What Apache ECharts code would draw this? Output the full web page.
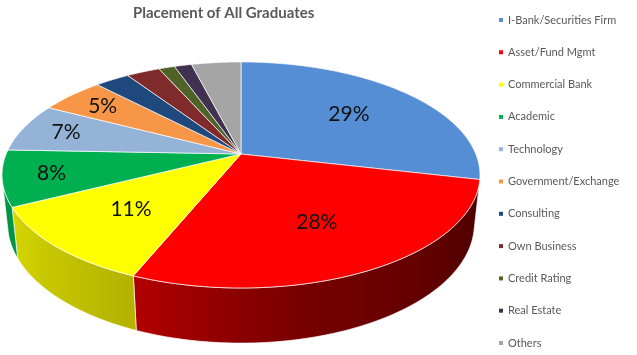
<!DOCTYPE html>
<html>
<head>
<meta charset="utf-8">
<script src="https://cdn.jsdelivr.net/npm/echarts@6/dist/echarts.min.js"></script>
<style>
html,body{margin:0;padding:0;background:#fff;}
#chart{width:637px;height:355px;}
</style>
</head>
<body>
<div id="chart"></div>
<script>
// ---- data ----
const categories = ['I-Bank/Securities Firm','Asset/Fund Mgmt','Commercial Bank','Academic','Technology','Government/Exchange','Consulting','Own Business','Credit Rating','Real Estate','Others'];
const values = [28.6, 27.6, 11.4, 8.0, 7.0, 5.2, 2.8, 2.7, 1.3, 1.4, 4.0];
const colors = ['#558ED5','#FF0000','#FFFF00','#00B050','#95B3D7','#F79646','#1F497D','#7F2B2B','#4F6228','#403151','#A5A5A5'];
const titleText = 'Placement of All Graduates';

// ---- 3D projection (perspective view of a tilted pie) ----
const CX = 241, CY = 154, F = 1121, D = 4.774, SIN_A = 0.4647, COS_A = 0.8855, H = 0.237;
function proj(theta, r, y3) {
  const x = r * Math.sin(theta), z = -r * Math.cos(theta);
  const depth = D - y3 * SIN_A - z * COS_A;
  const up = y3 * COS_A - z * SIN_A;
  return [CX + F * x / depth, CY - F * up / depth];
}
const TH_A = Math.acos(-1 / (D * COS_A));
const TH_B = 2 * Math.PI - TH_A;

const total = values.reduce((a, b) => a + b, 0);
const starts = [];
values.reduce((acc, v, i) => { starts[i] = acc; return acc + v; }, 0);

function shadeFactor(th) {
  const deg = th * 180 / Math.PI;
  const nodes = [[100, 0.28], [170, 0.47], [202, 0.70], [260, 0.90]];
  if (deg <= nodes[0][0]) return nodes[0][1];
  for (let i = 1; i < nodes.length; i++) {
    if (deg <= nodes[i][0]) {
      const t = (deg - nodes[i - 1][0]) / (nodes[i][0] - nodes[i - 1][0]);
      return nodes[i - 1][1] + t * (nodes[i][1] - nodes[i - 1][1]);
    }
  }
  return nodes[nodes.length - 1][1];
}
function shade(hex, f) {
  const n = parseInt(hex.slice(1), 16);
  const r = Math.round(((n >> 16) & 255) * f), g = Math.round(((n >> 8) & 255) * f), b = Math.round((n & 255) * f);
  return 'rgb(' + r + ',' + g + ',' + b + ')';
}

function angles(api) {
  const v = api.value(0), s = api.value(1), t = api.value(2);
  return [s / t * 2 * Math.PI, (s + v) / t * 2 * Math.PI, v / t];
}

function topSeries(i) {
  return {
    type: 'custom', name: categories[i], coordinateSystem: 'none', z: 3, silent: true,
    itemStyle: { color: colors[i] },
    data: [[values[i], starts[i], total]],
    renderItem: function (params, api) {
      const [a1, a2, frac] = angles(api);
      const n = Math.max(4, Math.ceil((a2 - a1) / 0.02));
      const pts = [proj(0, 0, 0)];
      for (let k = 0; k <= n; k++) pts.push(proj(a1 + (a2 - a1) * k / n, 1, 0));
      const children = [{
        type: 'polygon', shape: { points: pts },
        style: { fill: colors[i], stroke: 'rgba(255,255,255,0.85)', lineWidth: 0.8 }
      }];
      const pct = Math.round(frac * 100);
      if (pct >= 5) {
        const mid = (a1 + a2) / 2;
        const p = proj(mid, pct >= 10 ? 0.63 : 0.8, 0);
        children.push({
          type: 'text', x: p[0], y: p[1],
          style: { text: pct + '%', fill: '#111', font: '21px Lato, "Open Sans", sans-serif', align: 'center', verticalAlign: 'middle' }
        });
      }
      return { type: 'group', children: children };
    }
  };
}

function wallSeries(i) {
  return {
    type: 'custom', name: categories[i], coordinateSystem: 'none', z: 2, silent: true,
    itemStyle: { color: colors[i] },
    data: [[values[i], starts[i], total]],
    renderItem: function (params, api) {
      const [a1, a2] = angles(api);
      const b1 = Math.max(a1, TH_A), b2 = Math.min(a2, TH_B);
      if (b2 <= b1) return { type: 'group', children: [] };
      const n = Math.max(4, Math.ceil((b2 - b1) / 0.02));
      const top = [], bot = [];
      for (let k = 0; k <= n; k++) {
        const th = b1 + (b2 - b1) * k / n;
        top.push(proj(th, 1, 0));
        bot.push(proj(th, 1, -H));
      }
      const pts = top.concat(bot.reverse());
      const xs = pts.map(p => p[0]);
      const xmin = Math.min.apply(null, xs), xmax = Math.max.apply(null, xs);
      const stops = [];
      for (let k = 0; k <= 8; k++) {
        const th = b1 + (b2 - b1) * k / 8;
        const x = proj(th, 1, 0)[0];
        stops.push({ offset: Math.min(1, Math.max(0, (x - xmin) / (xmax - xmin || 1))), color: shade(colors[i], shadeFactor(th)) });
      }
      stops.sort((a, b) => a.offset - b.offset);
      return {
        type: 'polygon', shape: { points: pts },
        style: { fill: new echarts.graphic.LinearGradient(0, 0, 1, 0, stops), stroke: 'rgba(255,255,255,0.85)', lineWidth: 0.8 }
      };
    }
  };
}

const series = [];
categories.forEach((c, i) => series.push(topSeries(i)));
categories.forEach((c, i) => series.push(wallSeries(i)));

const chart = echarts.init(document.getElementById('chart'), null, { renderer: 'canvas' });
chart.setOption({
  animation: false,
  backgroundColor: '#fff',
  title: {
    text: titleText, left: 128, top: 1,
    textStyle: { fontFamily: 'Lato, sans-serif', fontWeight: 'bold', fontSize: 15, color: '#595959' }
  },
  legend: {
    orient: 'vertical', left: 499, top: 13, padding: 0,
    itemWidth: 4, itemHeight: 4, itemGap: 18.3, icon: 'rect',
    data: categories,
    textStyle: { fontFamily: 'Lato, sans-serif', fontSize: 11, color: '#595959', lineHeight: 14 }
  },
  series: series
});
</script>
</body>
</html>
